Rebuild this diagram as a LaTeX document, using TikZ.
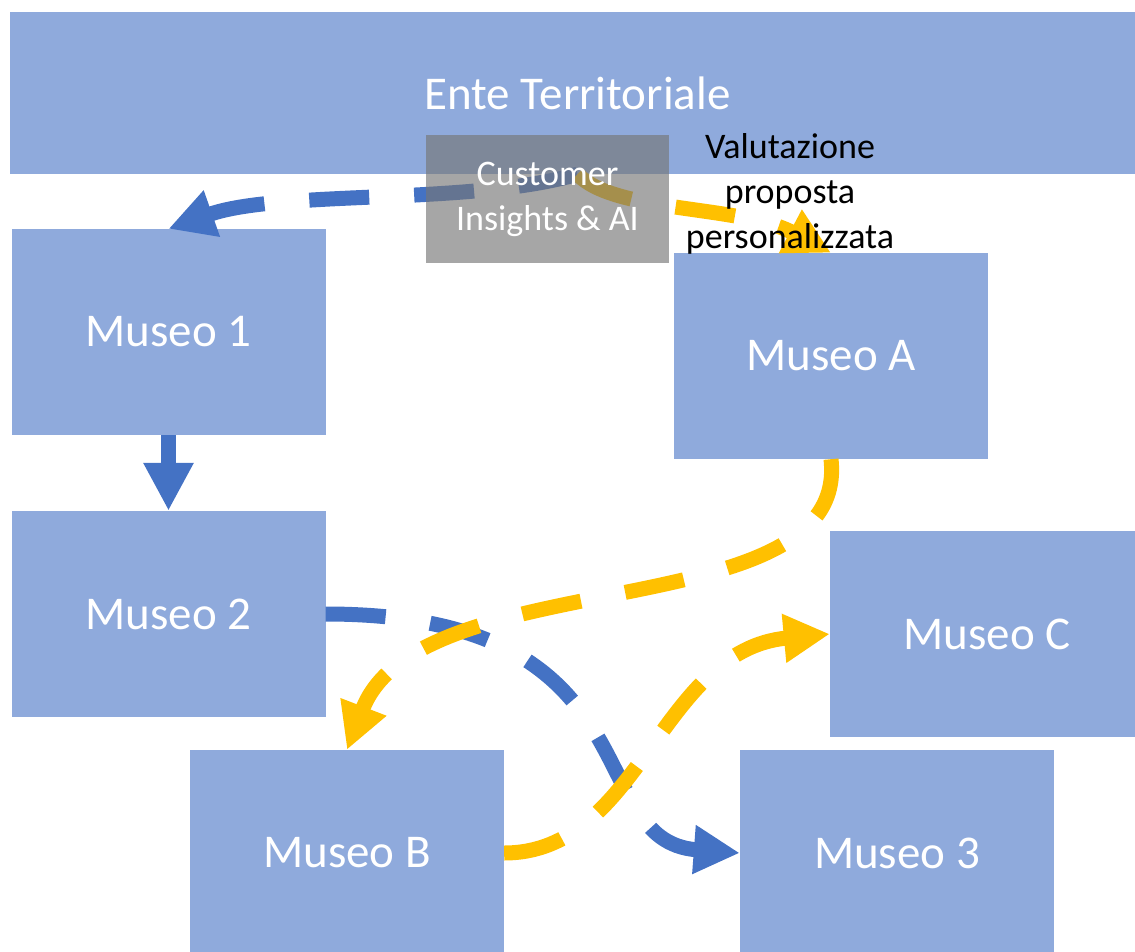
\documentclass[tikz,border=0pt]{standalone}
\usepackage{fontspec}
\setmainfont{Carlito}
\usetikzlibrary{arrows.meta}
\definecolor{boxblue}{RGB}{143,170,220}
\definecolor{lineblue}{RGB}{68,114,196}
\definecolor{lineyellow}{RGB}{255,192,0}
\definecolor{aigray}{RGB}{118,118,118}

\begin{document}
\begin{tikzpicture}[x=1pt,y=-1pt,
  box/.style={fill=boxblue, text=white, inner sep=0pt, minimum width=314pt, minimum height=206pt, font=\fontsize{47}{56}\selectfont},
  blueflow/.style={draw=lineblue, line width=15pt, dash pattern=on 60pt off 45pt, -{Triangle[length=46pt,width=46pt]}},
  yellowflow/.style={blueflow, draw=lineyellow}]
  \useasboundingbox (0,0) rectangle (1135,952);
  % boxes
  \node[box, minimum width=1135pt, minimum height=162pt] (ente) at (577.5,93) {Ente Territoriale};
  \node[box] (m1) at (168.5,332) {Museo 1};
  \node[box] (m2) at (168.5,614) {Museo 2};
  \node[box] (mA) at (831,356) {Museo A};
  \node[box] (mC) at (987,634) {Museo C};
  \node[box] (mB) at (347,853) {Museo B};
  \node[box] (m3) at (897,853) {Museo 3};
  % flows
  \draw[blueflow] (ente.south) .. controls +(-107,31) and +(111,-39) .. (m1.north);
  \draw[yellowflow] (ente.south) .. controls +(37,39) and +(-91,-48) .. (mA.north);
  \draw[draw=lineblue, line width=15pt, -{Triangle[length=48pt,width=47pt]}] (m1.south) -- (m2.north);
  \draw[blueflow] (m2.east) .. controls +(334,0) and +(-160,-12) .. (m3.west);
  \draw[yellowflow] (mA.south) .. controls +(19,171) and +(73,-190) .. (mB.north);
  \draw[yellowflow] (mB.east) .. controls +(136,0) and +(-170,16) .. (mC.west);
  % overlay
  \node[fill=aigray, fill opacity=0.65, text opacity=1, text=white, inner sep=0pt,
    minimum width=243pt, minimum height=128pt, align=center,
    font=\fontsize{36}{45}\selectfont] (ai) at (547.5,199) {Customer\\Insights \& AI};
  \node[align=center, inner sep=0pt, font=\fontsize{36}{45}\selectfont] (val) at (790,194)
    {Valutazione\\proposta\\personalizzata};
\end{tikzpicture}
\end{document}
